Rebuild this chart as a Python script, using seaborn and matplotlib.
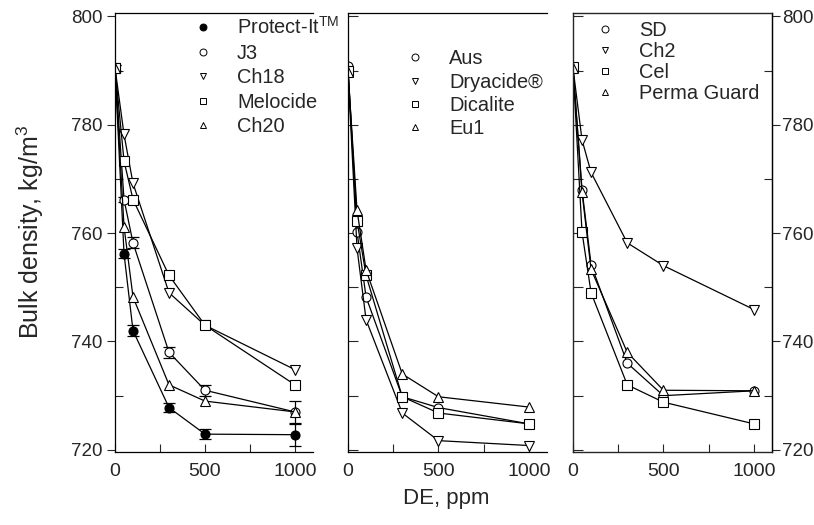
import matplotlib
matplotlib.use('Agg')
import matplotlib.pyplot as plt
from matplotlib.lines import Line2D
from matplotlib.ticker import MultipleLocator
import seaborn as sns

# DE dose (ppm)
dose = [0, 50, 100, 300, 500, 1000]

# Panel 1
protect_it = [790.5, 756.2, 742.0, 727.8, 722.9, 722.8]
protect_it_err = [0.6, 0.8, 1.0, 0.9, 0.9, 2.0]
j3 = [790.5, 766.2, 758.2, 738.0, 731.0, 727.0]
j3_err = [0.6, 0.5, 1.0, 1.0, 1.0, 2.0]
ch18 = [790.5, 778.2, 769.2, 749.0, 743.0, 734.8]
melocide = [790.5, 773.3, 766.2, 752.2, 743.0, 732.0]
ch20 = [790.5, 761.2, 748.2, 732.0, 729.0, 727.0]

# Panel 2
aus = [790.8, 760.2, 748.2, 729.8, 727.8, 724.8]
dryacide = [789.8, 757.2, 744.0, 726.8, 721.7, 720.8]
dicalite = [790.0, 762.2, 752.2, 729.8, 726.8, 724.8]
eu1 = [789.8, 764.2, 753.2, 734.0, 729.8, 727.9]

# Panel 3
sd = [790.6, 768.0, 754.2, 736.0, 730.0, 730.9]
ch2 = [790.5, 777.2, 771.2, 758.2, 754.0, 745.9]
cel = [790.6, 760.2, 749.0, 732.0, 728.8, 724.8]
perma_guard = [790.5, 767.5, 753.3, 738.0, 731.0, 730.9]

sns.set_style('white')
plt.rcParams['font.family'] = ['Liberation Sans', 'DejaVu Sans']
plt.rcParams['mathtext.fontset'] = 'custom'
plt.rcParams['mathtext.rm'] = 'Liberation Sans'
plt.rcParams['mathtext.it'] = 'Liberation Sans'

panels = [
    [('Protect-It$^{\\rm TM}$', protect_it, 'o', 'black', protect_it_err),
     ('J3', j3, 'o', 'white', j3_err),
     ('Ch18', ch18, 'v', 'white', None),
     ('Melocide', melocide, 's', 'white', None),
     ('Ch20', ch20, '^', 'white', None)],
    [('Aus', aus, 'o', 'white', None),
     ('Dryacide®', dryacide, 'v', 'white', None),
     ('Dicalite', dicalite, 's', 'white', None),
     ('Eu1', eu1, '^', 'white', None)],
    [('SD', sd, 'o', 'white', None),
     ('Ch2', ch2, 'v', 'white', None),
     ('Cel', cel, 's', 'white', None),
     ('Perma Guard', perma_guard, '^', 'white', None)],
]

fig = plt.figure(figsize=(8.14, 5.25), dpi=100)
lefts = [0.1413, 0.4275, 0.7039]
widths = [0.2432, 0.2445, 0.2445]
axes = [fig.add_axes([l, 0.139, w, 0.836]) for l, w in zip(lefts, widths)]

# legend placement (anchor x, anchor y, label spacing)
leg_pos = [(0.394, 0.993, 0.28), (0.286, 0.918, 0.22), (0.11, 0.983, 0.10)]

for i, (ax, series) in enumerate(zip(axes, panels)):
    for name, vals, m, fc, err in series:
        if err is not None:
            ax.errorbar(dose, vals, yerr=err, fmt='none', ecolor='black',
                        elinewidth=0.9, capsize=4, capthick=0.9, zorder=1.5)
        sns.lineplot(x=dose, y=vals, ax=ax, color='black', linewidth=0.9,
                     marker=m, markersize=6.5, markerfacecolor=fc,
                     markeredgecolor='black', markeredgewidth=0.8,
                     sort=False, zorder=2)
    handles = [Line2D([], [], ls='none', marker=m, ms=5, mfc=fc,
                      mec='black', mew=0.7) for _, _, m, fc, _ in series]
    labels = [s[0] for s in series]
    ax_x, ax_y, lsp = leg_pos[i]
    ax.legend(handles, labels, loc='upper left', bbox_to_anchor=(ax_x, ax_y),
              frameon=False, fontsize=14.4, handlelength=1.0,
              handletextpad=1.2, borderpad=0, borderaxespad=0,
              labelspacing=lsp)

    ax.set_xlim(0, 1100)
    ax.set_ylim(719.6, 800.6)
    ax.set_xticks([0, 500, 1000])
    ax.xaxis.set_minor_locator(MultipleLocator(250))
    ax.yaxis.set_major_locator(MultipleLocator(20))
    ax.yaxis.set_minor_locator(MultipleLocator(10))
    ax.set_xlabel('')
    ax.set_ylabel('')
    for sp in ax.spines.values():
        sp.set_color('black')
        sp.set_linewidth(0.9)
    ax.tick_params(axis='x', which='both', direction='in', top=False,
                   bottom=True, labelsize=14, length=6, width=0.8, pad=8)
    ax.tick_params(axis='y', which='both', direction='in', length=7,
                   width=0.8, labelsize=13.5, left=True, right=False,
                   labelleft=False, labelright=False)

# outer y axes: left of first panel, right of last panel
axes[0].tick_params(axis='y', which='major', direction='out', labelleft=True,
                    length=6, pad=3)
axes[0].tick_params(axis='y', which='minor', direction='in', length=6)
axes[0].spines['right'].set_visible(False)
axes[1].spines['right'].set_visible(False)

# right panel: second y axis on the right for outward ticks and labels
rax = axes[2].twinx()
rax.set_ylim(axes[2].get_ylim())
rax.yaxis.set_major_locator(MultipleLocator(20))
rax.yaxis.set_minor_locator(MultipleLocator(10))
rax.tick_params(axis='y', which='major', direction='out', length=6,
                width=0.8, labelsize=13.5, pad=1.5)
rax.tick_params(axis='y', which='minor', direction='in', length=6, width=0.8)
rax.spines['right'].set_linewidth(0.9)
rax.spines['right'].set_color('black')

fig.text(0.037, 0.558, 'Bulk density, kg/m$^3$', rotation=90,
         ha='center', va='center', fontsize=18)
fig.text(0.548, 0.05, 'DE, ppm', ha='center', va='center', fontsize=16)

fig.savefig('out.png', dpi=100)
